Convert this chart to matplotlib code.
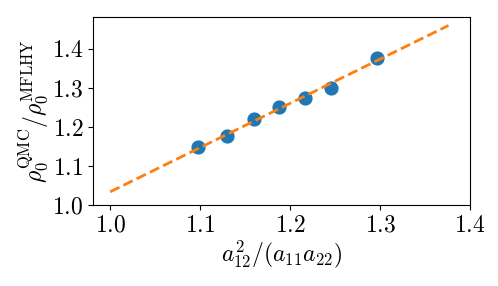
import matplotlib
matplotlib.use('Agg')
import matplotlib.pyplot as plt

plt.rcParams['font.family'] = 'serif'
plt.rcParams['font.serif'] = ['cmr10']
plt.rcParams['mathtext.fontset'] = 'cm'
plt.rcParams['axes.formatter.use_mathtext'] = True

# data
ratio = [1.098, 1.130, 1.160, 1.188, 1.217, 1.245, 1.297]
rho_ratio = [1.148, 1.178, 1.220, 1.250, 1.275, 1.300, 1.377]
fit_x = [1.0, 1.376]
fit_y = [1.034, 1.460]

fig = plt.figure(figsize=(4.98, 2.86), dpi=100)
ax = fig.add_axes([0.187, 0.283, 0.757, 0.658])
ax.scatter(ratio, rho_ratio, s=85, color='#1f77b4', zorder=2)
ax.plot(fit_x, fit_y, '--', color='#ff7f0e', lw=2, zorder=3)

ax.set_xlim(0.981, 1.4)
ax.set_ylim(1.0, 1.482)
ax.set_xticks([1.0, 1.1, 1.2, 1.3, 1.4])
ax.set_yticks([1.0, 1.1, 1.2, 1.3, 1.4])
ax.tick_params(labelsize=17)
ax.set_xlabel(r'$a_{12}^2/(a_{11}a_{22})$', fontsize=17, labelpad=1)
ax.set_ylabel(r'$\rho_0^{\rm QMC}/\rho_0^{\rm MFLHY}$', fontsize=17, labelpad=1)

fig.savefig('out.png', dpi=100)
